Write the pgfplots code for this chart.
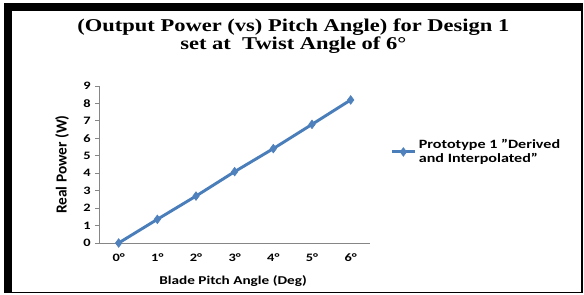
\documentclass[border=0pt]{standalone}
\usepackage{pgfplots}
\pgfplotsset{compat=1.18}
\usepackage{fontspec}
\setmainfont{Carlito}[FakeStretch=1.27]
\newfontfamily\plainfont{Carlito}
\newfontfamily\titlefont{Liberation Serif}[FakeStretch=1.25]
\definecolor{xblue}{HTML}{4A7EBB}
\definecolor{mblue}{HTML}{4F81BD}
\definecolor{axgray}{HTML}{868686}
\begin{document}
\begin{tikzpicture}
\path[use as bounding box] (0,0) rectangle (438pt,221.25pt);
\fill[black] (3pt,1.3pt) rectangle (437.25pt,218.8pt);
\fill[white] (9pt,2.6pt) rectangle (435.75pt,213pt);
\node[align=center,font=\titlefont\bfseries\fontsize{13.5}{13.2}\selectfont] at (220pt,194pt) {(Output Power (vs) Pitch Angle) for Design 1\\set at\ \ Twist Angle of 6°};
\begin{axis}[
  at={(74.5pt,39pt)}, anchor=south west,
  scale only axis, width=203pt, height=117.75pt,
  xmin=-0.5, xmax=6.5, ymin=0, ymax=9,
  axis x line*=bottom, axis y line*=left,
  axis line style={draw=axgray, line width=0.7pt, -},
  xtick={0,...,6},
  xticklabels={0°,1°,2°,3°,4°,5°,6°},
  xtick style={draw=none},
  extra x ticks={-0.5,0.5,1.5,2.5,3.5,4.5,5.5,6.5},
  extra x tick labels={},
  extra x tick style={tick style={draw=axgray, line width=0.7pt}, major tick length=3pt, tick align=outside},
  ytick={0,...,9},
  tick align=outside,
  major tick length=3pt,
  ytick style={draw=axgray, line width=0.7pt},
  ticklabel style={font=\bfseries\fontsize{8.5}{10}\selectfont},
  xticklabel style={yshift=-1.5pt},
  /pgf/number format/assume math mode=true,
  xlabel={Blade Pitch Angle (Deg)},
  ylabel={Real Power (W)},
  xlabel style={font=\bfseries\fontsize{9}{10}\selectfont, at={(axis description cs:0.494,-0.242)}, anchor=center},
  ylabel style={font=\plainfont\bfseries\fontsize{11.5}{10}\selectfont, at={(axis description cs:-0.138,0.5)}, anchor=center},
  legend style={at={(axis description cs:1.07,0.58)}, anchor=west, draw=none, fill=none,
    font=\bfseries\fontsize{9.5}{10.5}\selectfont, cells={align=left}, inner sep=1pt},
  legend cell align=left,
  clip=false,
]
\addplot[color=xblue, line width=2.2pt, mark=diamond*, mark size=3.2pt, mark options={fill=mblue, draw=mblue, line width=0.5pt}]
coordinates {(0,0) (1,1.357) (2,2.69) (3,4.09) (4,5.41) (5,6.80) (6,8.20)};
\addlegendentry{Prototype 1 \symbol{34}Derived\\and Interpolated\symbol{34}}
\end{axis}
\end{tikzpicture}
\end{document}
